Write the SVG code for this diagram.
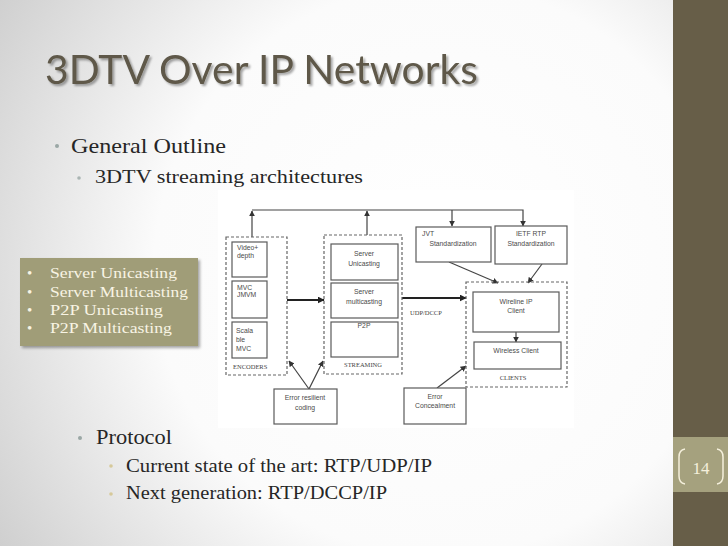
<svg xmlns="http://www.w3.org/2000/svg" width="728" height="546" viewBox="0 0 728 546">
<defs>
<radialGradient id="bg" cx="440" cy="270" r="520" gradientUnits="userSpaceOnUse">
<stop offset="0" stop-color="#ffffff"/>
<stop offset="0.55" stop-color="#fbfbfb"/>
<stop offset="1" stop-color="#cfcfcf"/>
</radialGradient>
<filter id="tsh" x="-5%" y="-20%" width="110%" height="140%">
<feDropShadow dx="2" dy="2" stdDeviation="1.2" flood-color="#000" flood-opacity="0.35"/>
</filter>
<filter id="bsh" x="-5%" y="-10%" width="112%" height="125%">
<feDropShadow dx="2" dy="2" stdDeviation="1.5" flood-color="#000" flood-opacity="0.35"/>
</filter>
<marker id="ah" viewBox="0 0 10 10" refX="9" refY="5" markerWidth="6" markerHeight="6" markerUnits="userSpaceOnUse" orient="auto">
<path d="M0,0 L10,5 L0,10 z" fill="#333"/>
</marker>
<marker id="ahb" viewBox="0 0 10 10" refX="9" refY="5" markerWidth="7" markerHeight="7" markerUnits="userSpaceOnUse" orient="auto">
<path d="M0,0 L10,5 L0,10 z" fill="#222"/>
</marker>
<style>
.body{font-family:"Liberation Serif","DejaVu Serif",serif;fill:#262626}
.b1{fill:#9aa7a5}
.b3{fill:#d6c99a}
.box{fill:#fff;stroke:#5a5a5a;stroke-width:1.2}
.dash{fill:none;stroke:#666;stroke-width:1.2;stroke-dasharray:3,2}
.dt{font-family:"Liberation Sans",Arial,sans-serif;font-size:6.8px;fill:#4a4a4a}
.dc{font-family:"Liberation Serif",serif;font-size:6.5px;fill:#444}
.ln{fill:none;stroke:#444;stroke-width:1.2}
.th{fill:none;stroke:#222;stroke-width:2}
.cw{font-family:"Liberation Serif",serif;font-size:15px;fill:#f8f4e4}
</style>
</defs>
<rect x="0" y="0" width="728" height="546" fill="url(#bg)"/>
<rect x="673" y="0" width="55" height="546" fill="#675e48"/>
<rect x="673" y="437" width="55" height="55" fill="#a5a17e"/>
<path d="M685,449 Q679,450 679,457 L679,476 Q679,483 685,484" fill="none" stroke="#f5f0dc" stroke-width="1.5"/>
<path d="M717,449 Q723,450 723,457 L723,476 Q723,483 717,484" fill="none" stroke="#f5f0dc" stroke-width="1.5"/>
<text x="701" y="474" text-anchor="middle" font-family="Liberation Serif,serif" font-size="17" fill="#f5f0dc">14</text>

<text x="45" y="84" font-family="Lato,'Open Sans',sans-serif" font-size="40" fill="#5e5849" textLength="433" lengthAdjust="spacingAndGlyphs" filter="url(#tsh)">3DTV Over IP Networks</text>

<circle class="b1" cx="57" cy="146" r="2"/>
<text x="71" y="153" class="body" font-size="22" textLength="155" lengthAdjust="spacingAndGlyphs">General Outline</text>
<circle class="b1" cx="79" cy="178" r="1.8" opacity="0.8"/>
<text x="95" y="183" class="body" font-size="18" textLength="268" lengthAdjust="spacingAndGlyphs">3DTV streaming architectures</text>

<rect x="218" y="190" width="356" height="238" fill="#ffffff"/>

<g id="connectors">
<path class="ln" d="M252,237 V211" marker-end="url(#ah)"/>
<path class="ln" d="M367,235 V211" marker-end="url(#ah)"/>
<path class="ln" d="M252,210 H523 V226" marker-end="url(#ah)"/>
<path class="ln" d="M452,210 V226" marker-end="url(#ah)"/>
<path class="th" d="M287,300 H324" marker-end="url(#ahb)"/>
<path class="th" d="M402,298 H466" marker-end="url(#ahb)"/>
<path class="ln" d="M449,262 L498,283" marker-end="url(#ah)"/>
<path class="ln" d="M542,264 L528,283" marker-end="url(#ah)"/>
<path class="ln" d="M516,332 V342" marker-end="url(#ah)"/>
<path class="ln" d="M309,389 L289,361" marker-end="url(#ah)"/>
<path class="ln" d="M309,389 L323,361" marker-end="url(#ah)"/>
<path class="ln" d="M437,388 L466,366" marker-end="url(#ah)"/>
</g>

<g id="encoders">
<rect class="dash" x="226" y="237" width="61" height="138"/>
<rect class="box" x="232" y="242" width="35" height="35"/>
<text class="dt" x="237" y="250">Video+</text>
<text class="dt" x="237" y="258">depth</text>
<rect class="box" x="232" y="281" width="35" height="37"/>
<text class="dt" x="237" y="290">MVC</text>
<text class="dt" x="237" y="297">JMVM</text>
<rect class="box" x="232" y="322" width="35" height="36"/>
<text class="dt" x="236" y="333" font-size="8">Scala</text>
<text class="dt" x="236" y="342" font-size="8">ble</text>
<text class="dt" x="236" y="351" font-size="8">MVC</text>
<text class="dc" x="233" y="369">ENCODERS</text>
</g>

<g id="streaming">
<rect class="dash" x="324" y="235" width="78" height="139"/>
<rect class="box" x="331" y="244" width="67" height="36"/>
<text class="dt" x="364" y="256" text-anchor="middle" font-size="7.5">Server</text>
<text class="dt" x="364" y="266" text-anchor="middle" font-size="7.5">Unicasting</text>
<rect class="box" x="331" y="283" width="67" height="35"/>
<text class="dt" x="364" y="294" text-anchor="middle" font-size="7.5">Server</text>
<text class="dt" x="364" y="304" text-anchor="middle" font-size="7.5">multicasting</text>
<rect class="box" x="331" y="322" width="67" height="35"/>
<text class="dt" x="364" y="328" text-anchor="middle" font-size="7.5">P2P</text>
<text class="dc" x="363" y="367" text-anchor="middle">STREAMING</text>
</g>

<g id="jvt">
<rect class="box" x="416" y="227" width="75" height="35"/>
<text class="dt" x="422" y="236" font-size="7.5">JVT</text>
<text class="dt" x="453" y="246" text-anchor="middle" font-size="7.5">Standardization</text>
</g>

<g id="ietf">
<rect class="box" x="495" y="226" width="72" height="38"/>
<text class="dt" x="531" y="236" text-anchor="middle" font-size="7.5">IETF RTP</text>
<text class="dt" x="531" y="246" text-anchor="middle" font-size="7.5">Standardization</text>
</g>

<text id="udp-label" class="dc" x="410" y="315">UDP/DCCP</text>

<g id="clients">
<rect class="dash" x="466" y="282" width="101" height="105"/>
<rect class="box" x="473" y="292" width="86" height="40"/>
<text class="dt" x="516" y="304" text-anchor="middle" font-size="7.5">Wireline IP</text>
<text class="dt" x="516" y="313" text-anchor="middle" font-size="7.5">Client</text>
<rect class="box" x="474" y="342" width="87" height="27"/>
<text class="dt" x="516" y="353" text-anchor="middle" font-size="7.5">Wireless Client</text>
<text class="dc" x="513" y="380" text-anchor="middle">CLIENTS</text>
</g>

<g id="error-resilient">
<rect class="box" x="274" y="389" width="63" height="35"/>
<text class="dt" x="305" y="400" text-anchor="middle" font-size="7.5">Error resilient</text>
<text class="dt" x="305" y="410" text-anchor="middle" font-size="7.5">coding</text>
</g>

<g id="error-concealment">
<rect class="box" x="404" y="388" width="62" height="36"/>
<text class="dt" x="435" y="399" text-anchor="middle" font-size="7.5">Error</text>
<text class="dt" x="435" y="408" text-anchor="middle" font-size="7.5">Concealment</text>
</g>

<g id="callout">
<rect x="20" y="258" width="178" height="88" fill="#a09d78" filter="url(#bsh)"/>
<text class="cw" x="27" y="278" font-size="12">•</text>
<text class="cw" x="50" y="278" textLength="127" lengthAdjust="spacingAndGlyphs">Server Unicasting</text>
<text class="cw" x="27" y="297" font-size="12">•</text>
<text class="cw" x="50" y="297" textLength="138" lengthAdjust="spacingAndGlyphs">Server Multicasting</text>
<text class="cw" x="27" y="315" font-size="12">•</text>
<text class="cw" x="50" y="315" textLength="113" lengthAdjust="spacingAndGlyphs">P2P Unicasting</text>
<text class="cw" x="27" y="333" font-size="12">•</text>
<text class="cw" x="50" y="333" textLength="122" lengthAdjust="spacingAndGlyphs">P2P Multicasting</text>
</g>

<circle class="b1" cx="80" cy="438" r="2"/>
<text x="96" y="444" class="body" font-size="22" textLength="76" lengthAdjust="spacingAndGlyphs">Protocol</text>
<circle class="b3" cx="111" cy="466" r="1.8"/>
<text x="126" y="472" class="body" font-size="18" textLength="306" lengthAdjust="spacingAndGlyphs">Current state of the art: RTP/UDP/IP</text>
<circle class="b3" cx="111" cy="494" r="1.8"/>
<text x="126" y="499" class="body" font-size="18" textLength="261" lengthAdjust="spacingAndGlyphs">Next generation: RTP/DCCP/IP</text>
</svg>
